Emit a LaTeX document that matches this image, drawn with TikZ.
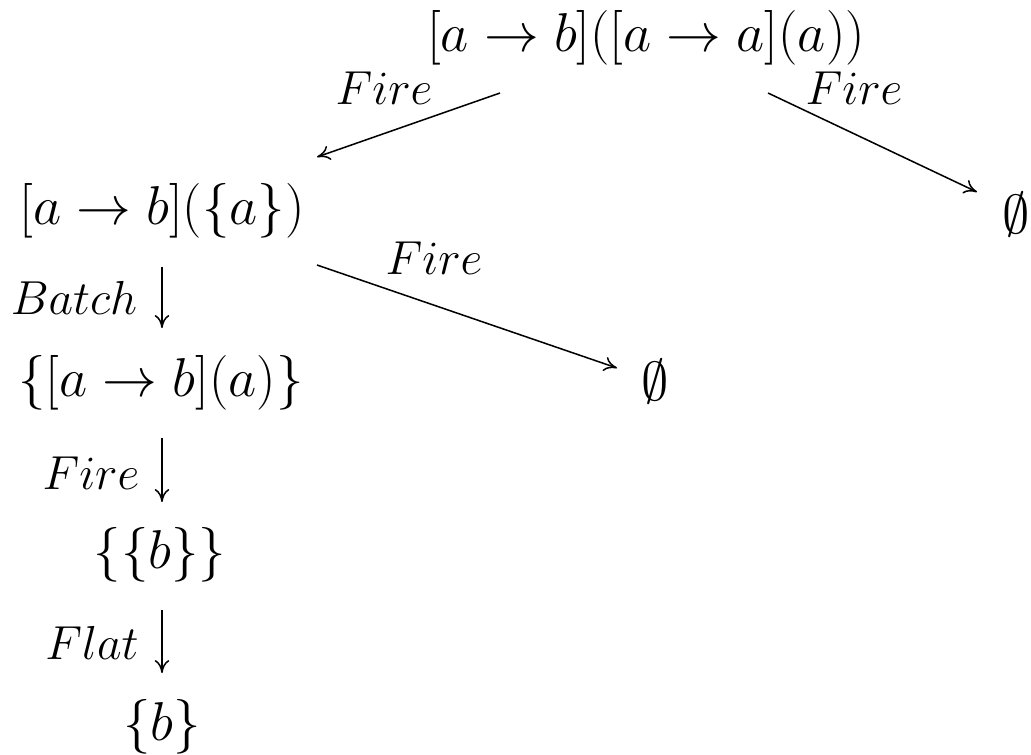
\documentclass[tikz,border=0pt]{standalone}
\usepackage{fix-cm}
\usetikzlibrary{arrows.meta}

\begin{document}
\begin{tikzpicture}[
  x=0.1156mm, y=-0.1156mm,
  term/.style={font=\fontsize{18}{22}\selectfont, inner sep=0pt},
  lab/.style={font=\fontsize{15.7}{19}\selectfont, inner sep=0pt},
  arrow/.style={-{To[length=1.5mm,width=1.7mm]}, line width=0.5pt}
]
\useasboundingbox (0,0) rectangle (1031,754);
% terms
\node[term] (start) at (646,38) {$[a\to b]([a\to a](a))$};
\node[term] (apply) at (162,211) {$[a\to b](\{a\})$};
\node[term] (emptyR) at (1016,214) {$\emptyset$};
\node[term] (emptyM) at (655,381) {$\emptyset$};
\node[term] (batch) at (161,383) {$\{[a\to b](a)\}$};
\node[term] (nested) at (160,555) {$\{\{b\}\}$};
\node[term] (flat) at (162,727) {$\{b\}$};
% labels
\node[lab] (fireL) at (384,88) {$Fire$};
\node[lab] (fireR) at (854,88) {$Fire$};
\node[lab] (fireM) at (434,258) {$Fire$};
\node[lab] (batchlab) at (74,298) {$Batch$};
\node[lab] (firelab) at (91,473) {$Fire$};
\node[lab] (flatlab) at (92,643) {$Flat$};
% arrows
\draw[arrow] ([shift={(-146,55)}]start.center) -- ([shift={(155,-54)}]apply.center);
\draw[arrow] ([shift={(122,55)}]start.center) -- ([shift={(-39,-22)}]emptyR.center);
\draw[arrow] ([shift={(155,54)}]apply.center) -- ([shift={(-38,-13)}]emptyM.center);
\draw[arrow] ([shift={(0,56)}]apply.center) -- ([shift={(1,-55)}]batch.center);
\draw[arrow] ([shift={(1,55)}]batch.center) -- ([shift={(2,-53)}]nested.center);
\draw[arrow] ([shift={(2,55)}]nested.center) -- ([shift={(0,-54)}]flat.center);
\end{tikzpicture}
\end{document}
